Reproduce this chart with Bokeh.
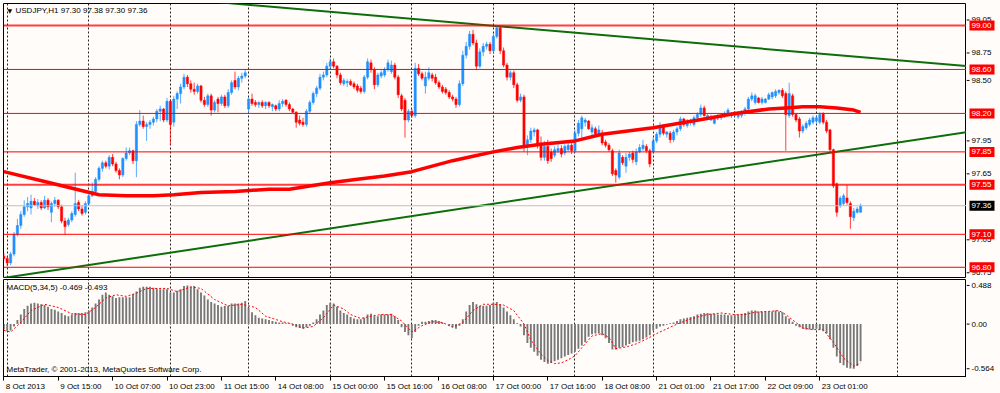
import numpy as np
import pandas as pd
from bokeh.plotting import figure
from bokeh.models import Range1d, FixedTicker, Label, ColumnDataSource, Span, Grid
from bokeh.layouts import column, row
from bokeh.core.properties import value
from bokeh.embed import file_html
from bokeh.resources import INLINE

FONT = "Liberation Sans"
BG = "#fffcfa"

# ---------------- data (USDJPY H1, bar index 0 = 8 Oct 2013 23:00) ----------------
opens = [
    96.90, 96.88, 96.84, 96.92, 97.10, 97.18, 97.28, 97.35, 97.34, 97.40,
    97.36, 97.39, 97.34, 97.41, 97.30, 97.38, 97.41, 97.35, 97.22, 97.19,
    97.23, 97.28, 97.39, 97.33, 97.30, 97.38, 97.45, 97.49, 97.60, 97.70,
    97.75, 97.72, 97.80, 97.74, 97.68, 97.64, 97.79, 97.84, 97.86, 97.77,
    98.10, 98.13, 98.08, 98.10, 98.12, 98.15, 98.22, 98.24, 98.14, 98.31,
    98.12, 98.33, 98.38, 98.44, 98.53, 98.47, 98.42, 98.40, 98.45, 98.32,
    98.28, 98.36, 98.23, 98.33, 98.29, 98.35, 98.27, 98.39, 98.50, 98.44,
    98.52, 98.54, 98.24, 98.33, 98.30, 98.28, 98.30, 98.27, 98.30, 98.26,
    98.27, 98.24, 98.29, 98.32, 98.28, 98.24, 98.21, 98.14, 98.12, 98.10,
    98.22, 98.30, 98.38, 98.43, 98.53, 98.55, 98.63, 98.67, 98.63, 98.55,
    98.47, 98.48, 98.49, 98.47, 98.45, 98.43, 98.40, 98.53, 98.66, 98.60,
    98.46, 98.54, 98.55, 98.60, 98.58, 98.64, 98.53, 98.36, 98.32, 98.14,
    98.22, 98.18, 98.61, 98.56, 98.45, 98.52, 98.55, 98.53, 98.48, 98.44,
    98.42, 98.39, 98.35, 98.33, 98.28, 98.47, 98.73, 98.81, 98.92, 98.84,
    98.63, 98.76, 98.81, 98.83, 98.77, 98.90, 98.98, 98.77, 98.64, 98.53,
    98.57, 98.46, 98.32, 98.35, 97.90, 97.96, 98.03, 98.05, 97.93, 97.80,
    97.90, 97.85, 97.82, 97.86, 97.88, 97.84, 97.87, 97.91, 97.86, 98.02,
    98.06, 98.12, 98.13, 98.03, 98.06, 98.01, 98.02, 97.94, 97.91, 97.86,
    97.68, 97.62, 97.80, 97.72, 97.80, 97.84, 97.76, 97.85, 97.88, 97.90,
    97.86, 97.85, 97.95, 98.01, 98.08, 98.01, 98.02, 97.96, 98.03, 98.06,
    98.15, 98.09, 98.12, 98.10, 98.16, 98.19, 98.25, 98.16, 98.14, 98.11,
    98.18, 98.16, 98.17, 98.19, 98.20, 98.18, 98.17, 98.18, 98.20, 98.24,
    98.33, 98.30, 98.34, 98.30, 98.30, 98.33, 98.35, 98.36, 98.39, 98.41,
    98.38, 98.18, 98.36, 98.19, 98.15, 98.04, 98.07, 98.10, 98.12, 98.13,
    98.12, 98.20, 98.12, 98.05, 97.87, 97.56, 97.36, 97.38, 97.43, 97.38,
    97.25, 97.30, 97.30,
]
highs = [
    96.93, 96.90, 96.94, 97.12, 97.24, 97.31, 97.41, 97.44, 97.46, 97.43,
    97.42, 97.41, 97.45, 97.43, 97.40, 97.44, 97.42, 97.37, 97.25, 97.25,
    97.31, 97.66, 97.41, 97.36, 97.40, 97.48, 97.57, 97.62, 97.72, 97.77,
    97.77, 97.82, 97.83, 97.76, 97.70, 97.80, 97.89, 97.89, 97.87, 98.13,
    98.23, 98.18, 98.12, 98.14, 98.17, 98.24, 98.27, 98.25, 98.34, 98.33,
    98.36, 98.40, 98.47, 98.56, 98.55, 98.50, 98.48, 98.47, 98.46, 98.35,
    98.38, 98.38, 98.32, 98.35, 98.37, 98.37, 98.42, 98.50, 98.58, 98.54,
    98.57, 98.60, 98.35, 98.38, 98.32, 98.31, 98.32, 98.31, 98.31, 98.29,
    98.28, 98.32, 98.33, 98.33, 98.30, 98.25, 98.22, 98.18, 98.16, 98.24,
    98.32, 98.40, 98.45, 98.56, 98.58, 98.66, 98.70, 98.70, 98.64, 98.57,
    98.52, 98.51, 98.51, 98.49, 98.47, 98.45, 98.55, 98.70, 98.69, 98.62,
    98.57, 98.59, 98.62, 98.69, 98.68, 98.66, 98.55, 98.38, 98.34, 98.24,
    98.24, 98.66, 98.65, 98.58, 98.58, 98.62, 98.57, 98.56, 98.50, 98.46,
    98.44, 98.41, 98.37, 98.35, 98.50, 98.77, 98.85, 98.95, 98.96, 98.87,
    98.79, 98.84, 98.85, 98.85, 98.93, 99.00, 99.00, 98.80, 98.66, 98.59,
    98.59, 98.48, 98.38, 98.37, 98.00, 98.07, 98.07, 98.06, 97.99, 97.95,
    97.96, 97.88, 97.90, 97.92, 97.91, 97.92, 97.93, 97.93, 98.05, 98.14,
    98.18, 98.16, 98.14, 98.10, 98.08, 98.09, 98.05, 97.96, 97.93, 97.88,
    97.70, 97.87, 97.82, 97.84, 97.85, 97.86, 97.88, 97.92, 97.96, 97.92,
    97.88, 97.98, 98.03, 98.12, 98.10, 98.04, 98.04, 98.05, 98.08, 98.17,
    98.16, 98.15, 98.15, 98.18, 98.21, 98.28, 98.27, 98.20, 98.19, 98.18,
    98.19, 98.20, 98.22, 98.25, 98.21, 98.22, 98.22, 98.23, 98.26, 98.35,
    98.39, 98.38, 98.35, 98.35, 98.34, 98.39, 98.40, 98.42, 98.42, 98.43,
    98.40, 98.48, 98.38, 98.20, 98.17, 98.10, 98.13, 98.16, 98.18, 98.18,
    98.21, 98.21, 98.14, 98.06, 97.88, 97.57, 97.45, 97.47, 97.55, 97.40,
    97.34, 97.35, 97.38,
]
lows = [
    96.86, 96.81, 96.82, 96.90, 97.08, 97.15, 97.26, 97.31, 97.28, 97.36,
    97.33, 97.32, 97.33, 97.32, 97.21, 97.35, 97.33, 97.20, 97.10, 97.17,
    97.21, 97.26, 97.31, 97.27, 97.28, 97.36, 97.44, 97.47, 97.58, 97.67,
    97.70, 97.69, 97.72, 97.66, 97.60, 97.62, 97.77, 97.82, 97.74, 97.62,
    98.08, 98.06, 97.95, 98.06, 98.09, 98.12, 98.13, 98.12, 98.12, 97.91,
    98.08, 98.24, 98.29, 98.42, 98.44, 98.39, 98.37, 98.38, 98.30, 98.26,
    98.26, 98.18, 98.21, 98.21, 98.27, 98.25, 98.25, 98.37, 98.42, 98.41,
    98.48, 98.52, 98.20, 98.27, 98.26, 98.25, 98.25, 98.24, 98.25, 98.22,
    98.22, 98.22, 98.26, 98.26, 98.22, 98.20, 98.07, 98.09, 98.08, 98.08,
    98.20, 98.28, 98.35, 98.41, 98.50, 98.53, 98.60, 98.61, 98.52, 98.46,
    98.45, 98.44, 98.45, 98.42, 98.39, 98.38, 98.38, 98.51, 98.57, 98.42,
    98.44, 98.52, 98.53, 98.58, 98.56, 98.51, 98.34, 98.22, 97.98, 98.12,
    98.16, 98.16, 98.54, 98.50, 98.38, 98.50, 98.49, 98.46, 98.42, 98.38,
    98.37, 98.33, 98.31, 98.25, 98.26, 98.45, 98.70, 98.78, 98.82, 98.60,
    98.61, 98.72, 98.78, 98.74, 98.74, 98.88, 98.74, 98.62, 98.50, 98.50,
    98.43, 98.30, 98.30, 97.85, 97.82, 97.93, 97.99, 97.88, 97.77, 97.77,
    97.74, 97.76, 97.80, 97.84, 97.80, 97.82, 97.85, 97.83, 97.84, 97.99,
    97.98, 98.08, 98.05, 97.99, 98.00, 98.00, 97.91, 97.89, 97.85, 97.63,
    97.57, 97.60, 97.73, 97.66, 97.77, 97.75, 97.73, 97.84, 97.86, 97.84,
    97.71, 97.83, 97.93, 97.98, 98.00, 97.98, 97.93, 97.94, 98.00, 98.04,
    98.08, 98.07, 98.09, 98.08, 98.14, 98.17, 98.17, 98.14, 98.13, 98.10,
    98.14, 98.14, 98.16, 98.18, 98.16, 98.17, 98.15, 98.16, 98.18, 98.22,
    98.31, 98.28, 98.29, 98.28, 98.29, 98.32, 98.33, 98.34, 98.37, 98.34,
    97.86, 98.16, 98.17, 98.12, 97.98, 98.02, 98.05, 98.08, 98.10, 98.11,
    98.10, 98.10, 98.02, 97.85, 97.52, 97.26, 97.34, 97.36, 97.37, 97.15,
    97.22, 97.29, 97.30,
]
closes = [
    96.88, 96.84, 96.92, 97.10, 97.18, 97.28, 97.35, 97.38, 97.40, 97.37,
    97.39, 97.34, 97.41, 97.35, 97.38, 97.41, 97.35, 97.22, 97.17, 97.23,
    97.29, 97.38, 97.33, 97.29, 97.38, 97.45, 97.49, 97.60, 97.70, 97.75,
    97.72, 97.80, 97.74, 97.68, 97.64, 97.79, 97.84, 97.86, 97.77, 98.10,
    98.13, 98.08, 98.10, 98.12, 98.15, 98.22, 98.24, 98.14, 98.31, 98.10,
    98.33, 98.38, 98.44, 98.53, 98.47, 98.42, 98.40, 98.45, 98.32, 98.28,
    98.36, 98.23, 98.30, 98.29, 98.35, 98.27, 98.39, 98.48, 98.44, 98.52,
    98.54, 98.57, 98.33, 98.29, 98.28, 98.30, 98.27, 98.30, 98.27, 98.28,
    98.24, 98.29, 98.31, 98.28, 98.24, 98.21, 98.12, 98.11, 98.10, 98.22,
    98.30, 98.38, 98.43, 98.53, 98.55, 98.63, 98.67, 98.63, 98.55, 98.48,
    98.50, 98.49, 98.46, 98.44, 98.41, 98.40, 98.53, 98.67, 98.60, 98.46,
    98.55, 98.57, 98.60, 98.66, 98.64, 98.53, 98.37, 98.24, 98.14, 98.22,
    98.18, 98.61, 98.56, 98.52, 98.53, 98.57, 98.52, 98.48, 98.44, 98.40,
    98.39, 98.35, 98.33, 98.28, 98.47, 98.73, 98.81, 98.92, 98.84, 98.63,
    98.76, 98.81, 98.83, 98.77, 98.90, 98.98, 98.77, 98.64, 98.53, 98.57,
    98.46, 98.32, 98.35, 97.90, 97.96, 98.04, 98.05, 97.93, 97.80, 97.90,
    97.77, 97.79, 97.87, 97.88, 97.83, 97.90, 97.91, 97.86, 98.02, 98.11,
    98.16, 98.14, 98.06, 98.07, 98.01, 98.05, 97.93, 97.91, 97.87, 97.65,
    97.64, 97.84, 97.75, 97.80, 97.83, 97.78, 97.85, 97.89, 97.91, 97.86,
    97.74, 97.95, 98.01, 98.09, 98.02, 98.03, 97.96, 98.03, 98.06, 98.15,
    98.10, 98.13, 98.13, 98.16, 98.19, 98.25, 98.18, 98.18, 98.16, 98.15,
    98.16, 98.18, 98.20, 98.23, 98.18, 98.21, 98.20, 98.21, 98.24, 98.33,
    98.36, 98.36, 98.30, 98.33, 98.33, 98.37, 98.39, 98.40, 98.41, 98.36,
    98.19, 98.38, 98.19, 98.14, 98.04, 98.08, 98.11, 98.14, 98.16, 98.16,
    98.19, 98.12, 98.04, 97.87, 97.54, 97.30, 97.43, 97.45, 97.39, 97.26,
    97.31, 97.33, 97.36,
]
macd_hist = [
    -0.07, -0.09, -0.08, -0.03, 0.05, 0.12, 0.19, 0.23, 0.26, 0.27,
    0.26, 0.25, 0.24, 0.22, 0.19, 0.18, 0.16, 0.14, 0.11, 0.10,
    0.12, 0.14, 0.14, 0.14, 0.15, 0.17, 0.21, 0.26, 0.31, 0.37,
    0.40, 0.37, 0.35, 0.33, 0.34, 0.34, 0.34, 0.34, 0.38, 0.41,
    0.46, 0.47, 0.47, 0.47, 0.46, 0.45, 0.44, 0.44, 0.44, 0.40,
    0.40, 0.42, 0.44, 0.48, 0.488, 0.47, 0.48, 0.44, 0.40, 0.36,
    0.31, 0.28, 0.26, 0.24, 0.22, 0.23, 0.23, 0.26, 0.26, 0.26,
    0.27, 0.29, 0.21, 0.15, 0.11, 0.08, 0.07, 0.06, 0.05, 0.04,
    0.03, 0.02, 0.02, 0.01, 0.01, -0.02, -0.04, -0.05, -0.06, -0.04,
    -0.02, 0.02, 0.06, 0.12, 0.17, 0.24, 0.27, 0.26, 0.22, 0.17,
    0.14, 0.12, 0.09, 0.07, 0.06, 0.06, 0.08, 0.12, 0.13, 0.10,
    0.10, 0.12, 0.12, 0.12, 0.13, 0.10, 0.05, -0.04, -0.10, -0.14,
    -0.18, -0.10, -0.02, 0.03, 0.03, 0.04, 0.05, 0.05, 0.04, 0.02,
    0.00, -0.02, -0.04, -0.06, -0.02, 0.06, 0.16, 0.24, 0.28, 0.25,
    0.23, 0.23, 0.23, 0.24, 0.27, 0.28, 0.25, 0.21, 0.16, 0.11,
    0.06, 0.01, -0.03, -0.14, -0.24, -0.30, -0.35, -0.40, -0.45, -0.48,
    -0.50, -0.49, -0.47, -0.45, -0.43, -0.41, -0.39, -0.37, -0.35, -0.31,
    -0.27, -0.23, -0.16, -0.13, -0.12, -0.12, -0.14, -0.18, -0.24, -0.32,
    -0.32, -0.30, -0.29, -0.27, -0.25, -0.23, -0.22, -0.21, -0.19, -0.17,
    -0.14, -0.08, -0.06, -0.03, -0.02, -0.01, 0.01, 0.02, 0.04, 0.06,
    0.07, 0.08, 0.09, 0.10, 0.12, 0.13, 0.14, 0.14, 0.13, 0.13,
    0.12, 0.12, 0.12, 0.11, 0.11, 0.12, 0.12, 0.13, 0.14, 0.16,
    0.17, 0.17, 0.16, 0.16, 0.16, 0.16, 0.16, 0.17, 0.16, 0.15,
    0.10, 0.07, 0.03, -0.02, -0.04, -0.06, -0.07, -0.07, -0.07, -0.06,
    -0.07, -0.09, -0.12, -0.19, -0.30, -0.41, -0.49, -0.52, -0.55, -0.56,
    -0.564, -0.53, -0.469,
]
signal_bar = [0, 2, 5, 8, 12, 16, 20, 24, 27, 30, 33, 36, 39, 42, 48, 51, 55, 58, 62, 66,
              70, 74, 77, 82, 85, 88, 91, 94, 97, 100, 102, 105, 108, 111, 114, 117, 120, 123, 126, 129,
              132, 135, 138, 141, 144, 147, 150, 153, 155, 158, 160, 162, 164, 166, 168, 170, 173, 176, 178, 180,
              183, 186, 189, 192, 195, 198, 201, 204, 207, 211, 215, 218, 221, 225, 228, 230, 233, 235, 238, 241,
              244, 247, 250, 252]
signal_val = [-0.08, -0.10, 0.02, 0.17, 0.25, 0.21, 0.13, 0.12, 0.21, 0.33, 0.37, 0.35, 0.39, 0.45, 0.45, 0.41, 0.47, 0.45, 0.31, 0.23,
              0.25, 0.21, 0.10, 0.03, 0.00, -0.05, -0.03, 0.08, 0.24, 0.19, 0.12, 0.07, 0.10, 0.12, 0.12, 0.04, -0.10, -0.02, 0.03, 0.02,
              -0.04, 0.02, 0.17, 0.25, 0.25, 0.24, 0.17, 0.00, -0.20, -0.38, -0.46, -0.50, -0.49, -0.45, -0.40, -0.30, -0.15, -0.12, -0.17, -0.31,
              -0.29, -0.25, -0.19, -0.12, -0.06, 0.00, 0.05, 0.09, 0.12, 0.14, 0.12, 0.12, 0.15, 0.16, 0.17, 0.12, 0.02, -0.05, -0.07, -0.07,
              -0.23, -0.43, -0.53, -0.493]
ma_bar = [0, 12, 24, 28, 36, 44, 50, 58, 68, 78, 84, 96, 104, 112, 120, 132, 138, 144, 151, 158,
          168, 176, 191, 206, 215, 225, 230, 235, 240, 245, 250, 252]
ma_val = [97.67, 97.58, 97.49, 97.46, 97.45, 97.45, 97.46, 97.48, 97.49, 97.51, 97.51, 97.57, 97.60, 97.63, 97.67, 97.77, 97.81, 97.85, 97.89, 97.92,
          97.95, 98.01, 98.07, 98.15, 98.20, 98.24, 98.25, 98.26, 98.26, 98.25, 98.23, 98.21]

levels = [99.00, 98.60, 98.20, 97.85, 97.55, 97.10, 96.80]
level_width = [2, 1, 1, 1, 2, 1, 1]
current_price = 97.36
trend_down_bar = [60, 283.15]
trend_down_val = [99.22, 98.63]
trend_up_bar = [-5, 283.15]
trend_up_val = [96.68, 98.03]
day_grid_bar = [1, 25, 49, 72, 96, 120, 144, 168, 191, 215, 239, 263]
time_tick_bar = [0, 16, 32, 48, 64, 80, 96, 112, 128, 144, 160, 176, 192, 208, 224, 240]
time_tick_labels = ["8 Oct 2013", "9 Oct 15:00", "10 Oct 07:00", "10 Oct 23:00", "11 Oct 15:00",
                    "14 Oct 08:00", "15 Oct 00:00", "15 Oct 16:00", "16 Oct 08:00", "17 Oct 00:00",
                    "17 Oct 16:00", "18 Oct 08:00", "21 Oct 01:00", "21 Oct 17:00", "22 Oct 09:00",
                    "23 Oct 01:00"]
price_ticks = [99.05, 98.75, 98.50, 97.95, 97.65, 97.05, 96.75]
price_tick_labels = ["99.05", "98.75", "98.50", "97.95", "97.65", "97.05", "96.75"]
macd_ticks = [0.488, 0.0, -0.564]
macd_tick_labels = ["0.488", "0.00", "-0.564"]

n = len(closes)
assert len(opens) == n and len(highs) == n and len(lows) == n and len(macd_hist) == n
assert len(signal_bar) == len(signal_val) and len(ma_bar) == len(ma_val)

X_START, X_END = -0.09, 283.15
P_LO, P_HI = 96.707, 99.20
M_LO, M_HI = -0.662, 0.563
SIDE_W = 34
FRAME_W = 963
PX_PER_BAR = FRAME_W / (X_END - X_START)
FONT_PX = 8

# approximate advance widths (em) of Liberation Sans, used to left-align the time labels at their ticks
CHAR_EM = {" ": 0.278, ":": 0.278, "O": 0.778, "c": 0.5, "t": 0.278}


def text_px(s):
    return FONT_PX * sum(CHAR_EM.get(ch, 0.556) for ch in s)


label_pos = [round(t + (2 + text_px(s) / 2) / PX_PER_BAR, 4) for t, s in zip(time_tick_bar, time_tick_labels)]

df = pd.DataFrame(dict(x=np.arange(n), o=opens, h=highs, l=lows, c=closes))
df["top"] = df[["o", "c"]].max(axis=1)
df["bottom"] = df[["o", "c"]].min(axis=1)
df["color"] = np.where(df["c"] >= df["o"], "#1e90ff", "#ff0000")
src = ColumnDataSource(df)

xr = Range1d(X_START, X_END)
pyr = Range1d(P_LO, P_HI)
myr = Range1d(M_LO, M_HI)


def base_fig(height, yr, xloc, mb_top, mb_bottom):
    f = figure(width=FRAME_W + 3, height=height, x_range=xr, y_range=yr,
               output_backend="svg", toolbar_location=None,
               x_axis_location=xloc, y_axis_location=None,
               min_border_left=3, min_border_right=0,
               min_border_top=mb_top, min_border_bottom=mb_bottom,
               background_fill_color=BG, border_fill_color=BG,
               outline_line_color="black", outline_line_width=1)
    f.grid.visible = False
    f.add_layout(Grid(dimension=0, ticker=FixedTicker(ticks=day_grid_bar),
                      grid_line_color="black", grid_line_dash="2 2", grid_line_alpha=0.85))
    return f


def side_fig(height, yr, mb_top, mb_bottom):
    s = figure(width=SIDE_W, height=height, x_range=Range1d(0, SIDE_W), y_range=yr,
               output_backend="svg", toolbar_location=None,
               x_axis_location=None, y_axis_location=None,
               min_border_left=0, min_border_right=0,
               min_border_top=mb_top, min_border_bottom=mb_bottom,
               background_fill_color=BG, border_fill_color=BG, outline_line_color=None)
    s.grid.visible = False
    return s


def scale_marks(s, ticks, labels):
    s.segment(x0=0, x1=3, y0=ticks, y1=ticks, line_color="black", line_width=1)
    s.text(x=5, y=ticks, text=labels, text_font=value(FONT), text_font_size="8px",
           text_color="black", text_align="left", text_baseline="middle")


# ---------------- price panel ----------------
p = base_fig(278, pyr, None, 3, 1)

for lv, lw in zip(levels, level_width):
    p.add_layout(Span(location=lv, dimension="width", line_color="#ff0000",
                      line_width=lw, line_alpha=0.75 if lw > 1 else 1.0))
p.add_layout(Span(location=current_price, dimension="width", line_color="#c0c0c0", line_width=1))

p.line(trend_down_bar, trend_down_val, line_color="#0b6e0b", line_width=2)
p.line(trend_up_bar, trend_up_val, line_color="#0b6e0b", line_width=2)

p.segment(x0="x", y0="l", x1="x", y1="h", line_color="color", line_width=1, line_alpha=0.75, source=src)
p.vbar(x="x", top="top", bottom="bottom", width=0.65, fill_color="color",
       line_color="color", line_width=0.5, source=src)

p.line(ma_bar, ma_val, line_color="#ff0000", line_width=3.5, line_join="round")

p.add_layout(Label(x=X_START, y=P_HI, x_offset=4, y_offset=-3, text="\u25BC", text_font="DejaVu Sans",
                   text_font_size="6px", text_color="black", text_baseline="top"))
p.add_layout(Label(x=X_START, y=P_HI, x_offset=12, y_offset=-2,
                   text="USDJPY,H1  97.30 97.38 97.30 97.36", text_font=FONT,
                   text_font_size="8px", text_color="black", text_baseline="top"))

# price scale (right side)
ps = side_fig(278, pyr, 3, 1)
scale_marks(ps, price_ticks, price_tick_labels)
ps.rect(x=15.5, y=levels, width=25, height=10, height_units="screen",
        fill_color="#ff0000", line_color=None)
ps.text(x=5, y=levels, text=[f"{lv:.2f}" for lv in levels], text_font=value(FONT),
        text_font_size="8px", text_color="white", text_align="left", text_baseline="middle")
ps.rect(x=15.5, y=[current_price], width=25, height=10, height_units="screen",
        fill_color="black", line_color=None)
ps.text(x=5, y=[current_price], text=[f"{current_price:.2f}"], text_font=value(FONT),
        text_font_size="8px", text_color="white", text_align="left", text_baseline="middle")

# ---------------- MACD panel ----------------
m = base_fig(115, myr, "below", 1, 16)
ax = m.xaxis[0]
ax.ticker = FixedTicker(ticks=label_pos, minor_ticks=time_tick_bar)
ax.major_label_overrides = {pos: s for pos, s in zip(label_pos, time_tick_labels)}
ax.axis_line_color = "black"
ax.major_tick_line_color = None
ax.major_tick_out = 3
ax.major_tick_in = 0
ax.minor_tick_line_color = "black"
ax.minor_tick_out = 4
ax.minor_tick_in = 0
ax.major_label_text_font = FONT
ax.major_label_text_font_size = "8px"
ax.major_label_text_color = "black"
ax.major_label_standoff = 1

m.vbar(x=np.arange(n), top=macd_hist, bottom=0, width=0.55, fill_color="#777777", line_color=None)
m.line(signal_bar, signal_val, line_color="#ff0000", line_dash="2 2", line_width=1)

m.add_layout(Label(x=X_START, y=M_HI, x_offset=3, y_offset=-3,
                   text="MACD(5,34,5) -0.469 -0.493", text_font=FONT,
                   text_font_size="8px", text_color="black", text_baseline="top"))
m.add_layout(Label(x=X_START, y=M_LO, x_offset=3, y_offset=3,
                   text="MetaTrader, \u00A9 2001-2013, MetaQuotes Software Corp.", text_font=FONT,
                   text_font_size="8px", text_color="black", text_baseline="bottom"))

ms = side_fig(115, myr, 1, 16)
scale_marks(ms, macd_ticks, macd_tick_labels)

layout = column(row(p, ps, spacing=0), row(m, ms, spacing=0), spacing=0)
open("out.html", "w").write(file_html(layout, INLINE))
